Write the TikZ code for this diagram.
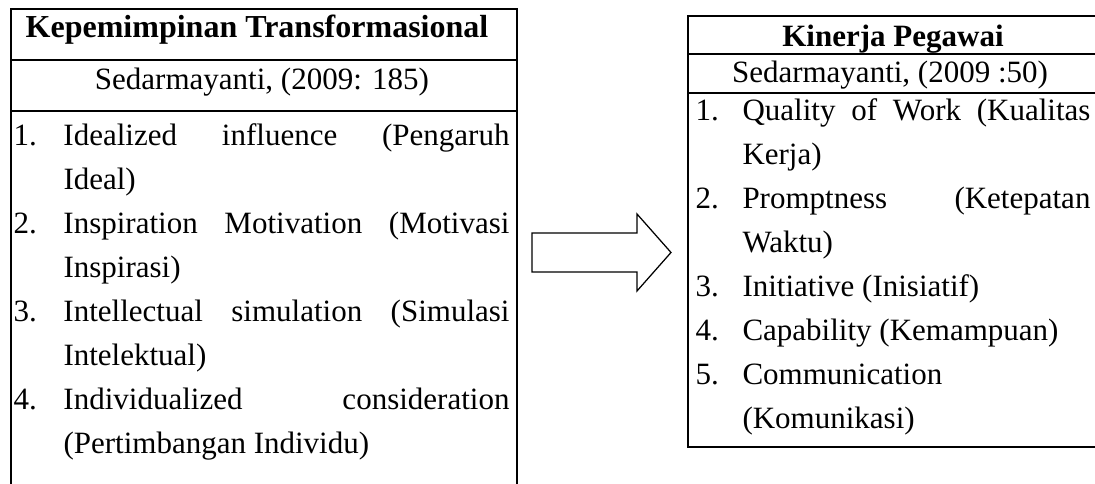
\documentclass[tikz,border=0pt]{standalone}
\usepackage{fontspec}
\setmainfont{Liberation Serif}
\usepackage{tikz}

\newlength{\hangnum}
\newcommand{\numitem}[1]{\noindent\hangindent=\hangnum\hangafter=1\makebox[\hangnum][l]{#1}\ignorespaces}

\tikzset{
    boxline/.style={line width=0.8pt},
    arrowline/.style={line width=0.5pt, line join=miter},
    headtext/.style={font=\fontsize{12.4}{15}\selectfont\bfseries, inner sep=0pt, anchor=base},
    citetext/.style={font=\fontsize{12.4}{15}\selectfont, inner sep=0pt, anchor=base},
    listtext/.style={font=\fontsize{12.4}{17.6}\selectfont, inner sep=0pt, anchor=base west, align=justify},
}

\begin{document}
\begin{tikzpicture}[x=0.4pt, y=0.4pt]
    % Frame of the picture:
    \useasboundingbox (0, 0) rectangle (1095, 484);
    % Left table:
    \draw[boxline] (11, 475) rectangle (517, -10);
    \draw[boxline] (11, 424) -- (517, 424);
    \draw[boxline] (11, 373) -- (517, 373);
    \draw node[headtext, font=\fontsize{12.8}{15}\selectfont\bfseries] (kpHead) at (257, 446) {Kepemimpinan Transformasional};
    \draw node[citetext] (kpCite) at (262, 394) {Sedarmayanti, (2009: 185)};
    \draw node[listtext, text width=198.4pt] (kpList) at (13, 338) {\hyphenpenalty=10000\setlength{\hangnum}{20pt}%
        \numitem{1.}Idealized influence (Pengaruh\linebreak Ideal)\par
        \numitem{2.}Inspiration Motivation (Motivasi\linebreak Inspirasi)\par
        \numitem{3.}Intellectual simulation (Simulasi\linebreak Intelektual)\par
        \numitem{4.}Individualized consideration\linebreak (Pertimbangan Individu)\par};
    % Right table:
    \draw[boxline] (688, 468) rectangle (1100, 37);
    \draw[boxline] (688, 430) -- (1100, 430);
    \draw[boxline] (688, 391) -- (1100, 391);
    \draw node[headtext] (kpHeadR) at (893, 437) {Kinerja Pegawai};
    \draw node[citetext] (kpCiteR) at (890, 401) {Sedarmayanti, (2009 :50)};
    \draw node[listtext, text width=158pt] (kpListR) at (695, 363) {\hyphenpenalty=10000\setlength{\hangnum}{18.8pt}%
        \numitem{1.}Quality of Work (Kualitas\linebreak Kerja)\par
        \numitem{2.}Promptness (Ketepatan\linebreak Waktu)\par
        \numitem{3.}Initiative (Inisiatif)\par
        \numitem{4.}Capability (Kemampuan)\par
        \numitem{5.}Communication\\(Komunikasi)\par};
    % Block arrow between the tables:
    \draw[arrowline] (532, 251) -- (637, 251) -- (637, 270) -- (671, 231.5)
        -- (637, 193) -- (637, 212) -- (532, 212) -- cycle;
\end{tikzpicture}
\end{document}
